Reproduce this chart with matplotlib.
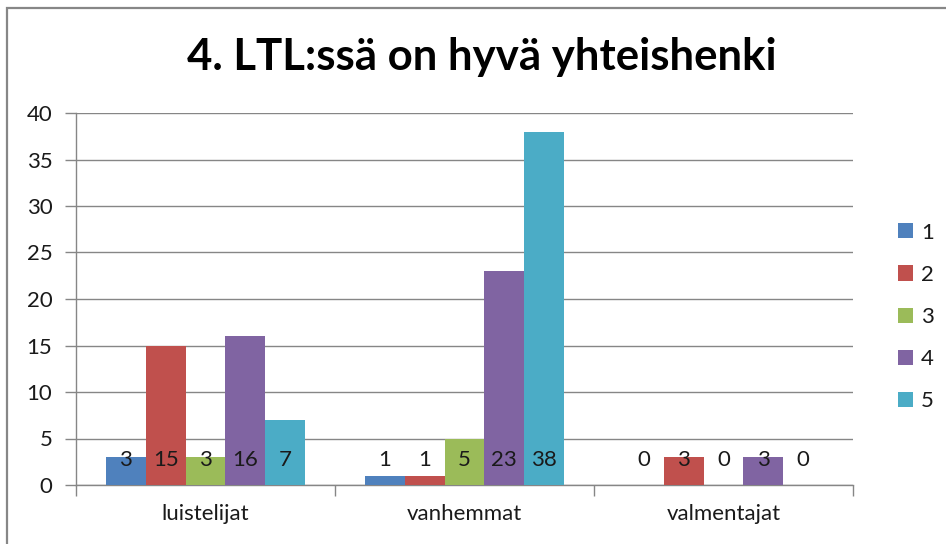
import matplotlib
matplotlib.use("Agg")
import matplotlib.pyplot as plt
from matplotlib.patches import Rectangle
import numpy as np

categories = ["luistelijat", "vanhemmat", "valmentajat"]
series_names = ["1", "2", "3", "4", "5"]
s1 = [3, 1, 0]
s2 = [15, 1, 3]
s3 = [3, 5, 0]
s4 = [16, 23, 3]
s5 = [7, 38, 0]
series_values = [s1, s2, s3, s4, s5]
colors = ["#4F81BD", "#C0504D", "#9BBB59", "#8064A2", "#4BACC6"]
title = "4. LTL:ssä on hyvä yhteishenki"

plt.rcParams['font.family'] = ['Lato', 'DejaVu Sans']
W, H = 946, 544
fig = plt.figure(figsize=(W/100, H/100), dpi=100)
fig.patch.set_facecolor('white')

# frame
fig.patches.append(Rectangle((7/W, -0.1), 1.2, 1 - 8/H + 0.1, transform=fig.transFigure,
                             fill=False, edgecolor='#878787', linewidth=1.6, zorder=0))

x0, x1, ytop, ybot = 76, 853, 113, 485
ax = fig.add_axes([x0/W, (H-ybot)/H, (x1-x0)/W, (ybot-ytop)/H])

fs = 16
n = len(series_values)
bw = 1 / (n + 1.5)
x = np.arange(len(categories))
for i, (vals, c, name) in enumerate(zip(series_values, colors, series_names)):
    pos = x + (i - (n-1)/2) * bw
    ax.bar(pos, vals, width=bw, color=c, label=name, zorder=3)
    for p, v in zip(pos, vals):
        ax.annotate(str(v), (p, 0), xytext=(0, 25), textcoords='offset pixels',
                    ha='center', va='center', fontsize=fs, color='#1a1a1a', zorder=4)

ax.set_xlim(-0.5, len(categories) - 0.5)
ax.set_ylim(0, 40)
ax.set_yticks(range(0, 41, 5))
ax.yaxis.grid(True, color='#868686', linewidth=1.0, zorder=0)
ax.set_axisbelow(True)
for s in ['top', 'right']:
    ax.spines[s].set_visible(False)
for s in ['left', 'bottom']:
    ax.spines[s].set_color('#868686')
    ax.spines[s].set_linewidth(1.0)
ax.set_xticks(x)
ax.set_xticklabels(categories)
ax.set_xticks(np.arange(-0.5, len(categories)), minor=True)
ax.tick_params(axis='x', which='major', length=0, pad=14, labelsize=fs, labelcolor='#1a1a1a')
ax.tick_params(axis='x', which='minor', length=8, color='#868686', width=1.0)
ax.tick_params(axis='y', length=8, color='#868686', width=1.0, pad=9, labelsize=fs, labelcolor='#1a1a1a')

fig.text(482/W, 1 - 57/H, title, ha='center', va='center', fontsize=31.5, fontweight='bold', color='black')

leg = ax.legend(loc='center left', bbox_to_anchor=(1.058, 0.4516), frameon=False, fontsize=fs,
                handlelength=0.68, handleheight=0.68, labelspacing=1.0, handletextpad=0.35,
                borderaxespad=0, borderpad=0)
for t in leg.get_texts():
    t.set_color('#1a1a1a')

fig.savefig("out.png", dpi=100, facecolor='white')
